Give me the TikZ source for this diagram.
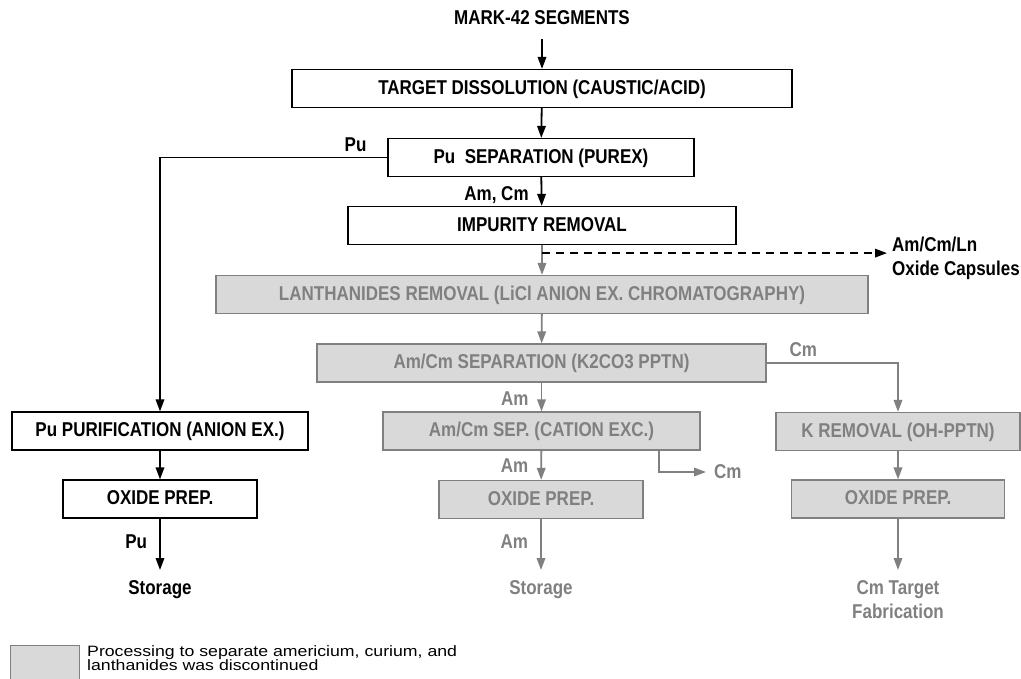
\documentclass[tikz,border=0pt]{standalone}
\usepackage{fontspec}
\usepackage{tikz}
\usetikzlibrary{arrows.meta,positioning,calc}
\newfontfamily\diagfont[FakeStretch=0.85]{Liberation Sans}
\newfontfamily\notefont[FakeStretch=1.18]{Liberation Sans}
\newcommand\keyfont{\notefont\fontsize{15}{13.5}\selectfont\lineskiplimit=-20pt\relax}
\definecolor{greyi}{RGB}{217,217,217}
\definecolor{greyl}{RGB}{128,128,128}
\tikzset{>={Triangle[length=12pt,width=8.5pt]},
          stage/.style={
            draw=black,fill=white,line width=1.2pt,
            minimum height=38pt,inner sep=0pt,
            text height=15pt,text depth=4pt,
            font=\diagfont\bfseries\fontsize{20}{24}\selectfont
          },
          gstage/.style={stage,draw=greyl,fill=greyi,text=greyl},
          flow/.style={->,line width=1.8pt},
          gflow/.style={flow,color=greyl},
          stream/.style={font=\diagfont\bfseries\fontsize{20}{24}\selectfont,
            inner sep=0pt,align=center},
          lbl/.style={stream,left=12pt}
        }

\begin{document}
\begin{tikzpicture}[x=1pt,y=-1pt]
  \useasboundingbox (0,0) rectangle (1021,678);

  % main line
  \node[stream] (seg) at (542,18) {MARK-42 SEGMENTS};
  \node[stage,minimum width=500pt] (diss) at (542,88.5) {TARGET DISSOLUTION (CAUSTIC/ACID)};
  \node[stage,minimum width=306pt] (pusep) at (541,157.5) {Pu\ \ SEPARATION (PUREX)};
  \node[stage,minimum width=388pt] (imp) at (542,225.5) {IMPURITY REMOVAL};
  \node[gstage,minimum width=652pt] (lan) at (542,294.5) {LANTHANIDES REMOVAL (LiCl ANION EX. CHROMATOGRAPHY)};
  \node[gstage,minimum width=449pt] (amcm) at (541.5,363) {Am/Cm SEPARATION (K2CO3 PPTN)};
  \node[gstage,minimum width=317pt] (cat) at (541.5,431) {Am/Cm SEP. (CATION EXC.)};
  \node[gstage,minimum width=204pt] (oxam) at (541,499.5) {OXIDE PREP.};
  \node[stream,text=greyl,anchor=north] (amsto) at (541,580) {Storage};

  % Pu branch
  \node[stage,minimum width=296pt] (pupur) at (160,431) {Pu PURIFICATION (ANION EX.)};
  \node[stage,minimum width=194pt] (oxpu) at (160,499) {OXIDE PREP.};
  \node[stream,anchor=north] (pusto) at (160,580) {Storage};

  % Cm branch
  \node[gstage,minimum width=244pt] (kre) at (898,431.5) {K REMOVAL (OH-PPTN)};
  \node[gstage,minimum width=213pt] (oxcm) at (898,499) {OXIDE PREP.};
  \node[stream,text=greyl,anchor=north] (cmfab) at (898,580) {Cm Target\\Fabrication};

  \node[stream,anchor=north west,inner xsep=5pt,align=left] (ocap) at (887,237) {Am/Cm/Ln\\Oxide Capsules};
  \node[stream,anchor=west,inner xsep=8pt,text=greyl] (cmout) at (706,472) {Cm};
  \coordinate (split) at ($(imp.south)+(0,8)$);

  % connectors
  \draw[flow,shorten <=14pt] (seg) -- (diss);
  \draw[flow] (diss) -- (pusep);
  \draw[flow] (pusep) -- node[lbl,pos=0.62]{Am, Cm} (imp);
  \draw[flow] (pusep.west) -| node[stream,above=5pt,pos=0.07]{Pu} (pupur.north);
  \draw[flow] (pupur) -- (oxpu);
  \draw[flow,shorten >=10pt] (oxpu) -- node[lbl,pos=0.38]{Pu} (pusto);

  \draw[gflow] (imp) -- (lan);
  \draw[flow,dash pattern=on 8pt off 6pt] (split) -- (split -| ocap.west);
  \draw[gflow] (lan) -- (amcm);
  \draw[gflow] (amcm) -- node[lbl,text=greyl,pos=0.57]{Am} (cat);
  \draw[gflow] (amcm.east) -| node[stream,text=greyl,above=5pt,pos=0.14]{Cm} (kre.north);
  \draw[gflow] (cat) -- node[lbl,text=greyl,pos=0.52]{Am} (oxam);
  \draw[gflow] ($(cat.south east)+(-42,0)$) |- (cmout.west);
  \draw[gflow,shorten >=10pt] (oxam) -- node[lbl,text=greyl,pos=0.37]{Am} (amsto);
  \draw[gflow] (kre) -- (oxcm);
  \draw[gflow,shorten >=10pt] (oxcm) -- (cmfab);

  % legend
  \node[draw=greyl,fill=greyi,line width=1pt,minimum width=69pt,minimum height=45pt,
        anchor=north west] (key) at (10,645) {};
  \node[anchor=north west,align=left,inner sep=0pt,font=\keyfont] (keytxt) at (87,645.5)
        {Processing to separate americium, curium, and\\lanthanides was discontinued};
\end{tikzpicture}
\end{document}
